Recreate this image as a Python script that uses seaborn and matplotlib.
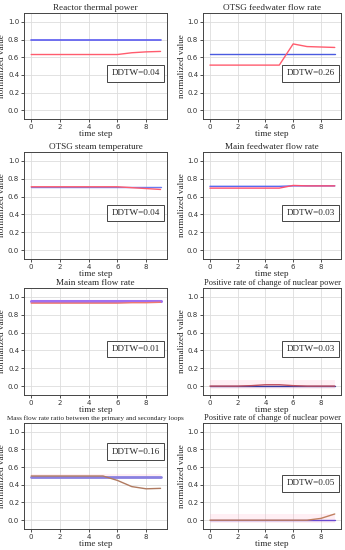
import numpy as np
import pandas as pd
import matplotlib
matplotlib.use("Agg")
import matplotlib.pyplot as plt
import seaborn as sns

steps = list(range(10))

titles = [
    "Reactor thermal power",
    "OTSG feedwater flow rate",
    "OTSG steam temperature",
    "Main feedwater flow rate",
    "Main steam flow rate",
    "Positive rate of change of nuclear power",
    "Mass flow rate ratio between the primary and secondary loops",
    "Positive rate of change of nuclear power",
]
ddtw = [0.04, 0.26, 0.04, 0.03, 0.01, 0.03, 0.16, 0.05]

ref_1 = [0.79] * 10
pred_1 = [0.63, 0.63, 0.63, 0.63, 0.63, 0.63, 0.63, 0.65, 0.66, 0.665]
ref_2 = [0.64] * 10
pred_2 = [0.51, 0.51, 0.51, 0.51, 0.51, 0.51, 0.75, 0.72, 0.715, 0.71]
ref_3 = [0.71, 0.71, 0.71, 0.71, 0.71, 0.71, 0.71, 0.71, 0.71, 0.71]
pred_3 = [0.71, 0.71, 0.71, 0.71, 0.71, 0.71, 0.71, 0.70, 0.69, 0.68]
ref_4 = [0.715, 0.715, 0.715, 0.715, 0.715, 0.715, 0.72, 0.72, 0.72, 0.72]
pred_4 = [0.695, 0.695, 0.695, 0.695, 0.695, 0.695, 0.725, 0.72, 0.72, 0.72]
ref_5 = [0.955] * 10
pred_5 = [0.93, 0.93, 0.93, 0.93, 0.93, 0.93, 0.93, 0.935, 0.935, 0.94]
ref_6 = [0.0] * 10
pred_6 = [0.0, 0.0, 0.0, 0.005, 0.015, 0.015, 0.005, 0.0, 0.0, 0.0]
ref_7 = [0.49] * 10
pred_7 = [0.5, 0.5, 0.5, 0.5, 0.5, 0.5, 0.45, 0.38, 0.355, 0.36]
ref_8 = [0.0] * 10
pred_8 = [0.0, 0.0, 0.0, 0.0, 0.0, 0.0, 0.0, 0.0, 0.02, 0.07]

refs = [ref_1, ref_2, ref_3, ref_4, ref_5, ref_6, ref_7, ref_8]
preds = [pred_1, pred_2, pred_3, pred_4, pred_5, pred_6, pred_7, pred_8]

# faint shaded bands (lower, upper) per panel, None if absent
band_6 = ([-0.03] * 10, [0.07] * 10)
band_8 = ([-0.03] * 10, [0.07] * 10)
band_7 = ([0.47] * 10, [0.52] * 10)
bands = [None, None, None, None, None, band_6, band_7, band_8]

sns.set_theme(style="ticks")
plt.rcParams["font.family"] = ["DejaVu Sans"]

fig = plt.figure(figsize=(3.45, 5.5), dpi=100)
W, H = 345, 550
col_x = [(24, 167), (203, 341)]
row_y = [(13, 119), (152, 259), (288, 395), (423, 529)]

serif = "Liberation Serif"
pred_colors = ["#ff5c6e", "#ff5c6e", "#ff5c6e", "#ff4f70", "#f07a70", "#c05060", "#b07a60", "#c08060"]
ref_colors = ["#5a5af0", "#4a5ae0", "#6a7af0", "#5a6af0", "#a070f0", "#3a3aa0", "#8a80e0", "#6a4ad0"]
ref_lw = [1.2, 1.0, 1.0, 1.0, 2.2, 1.0, 2.0, 1.0]
title_sizes = [6.6, 6.6, 6.6, 6.6, 6.6, 6.0, 5.1, 6.0]

for i in range(8):
    r, c = divmod(i, 2)
    x0, x1 = col_x[c]
    y0, y1 = row_y[r]
    ax = fig.add_axes([x0 / W, 1 - y1 / H, (x1 - x0) / W, (y1 - y0) / H])
    df = pd.DataFrame({"step": steps, "ref": refs[i], "pred": preds[i]})
    if bands[i] is not None:
        ax.fill_between(steps, bands[i][0], bands[i][1], color="#ffb0c8", alpha=0.2, lw=0)
    sns.lineplot(data=df, x="step", y="ref", ax=ax, color=ref_colors[i], lw=ref_lw[i])
    sns.lineplot(data=df, x="step", y="pred", ax=ax, color=pred_colors[i], lw=1.0)
    ax.set_ylim(-0.1, 1.1)
    ax.set_xlim(-0.5, 9.45)
    ax.set_yticks([0.0, 0.2, 0.4, 0.6, 0.8, 1.0])
    ax.set_xticks([0, 2, 4, 6, 8])
    ax.grid(True, color="#dddddd", lw=0.6)
    ax.tick_params(labelsize=5, colors="#333333", length=2, width=0.6, pad=1.5)
    for s in ax.spines.values():
        s.set_color("#444444")
        s.set_linewidth(0.7)
    t = ax.set_title(titles[i], fontsize=title_sizes[i], family=serif, pad=2.5)
    t.set_clip_on(False)
    ax.set_xlabel("time step", fontsize=6.6, family=serif, labelpad=0)
    ax.set_ylabel("normalized value", fontsize=6.6, family=serif, labelpad=1)
    by = 0.73 if i == 6 else 0.43
    ax.text(0.78, by, f"DDTW={ddtw[i]:.2f}", transform=ax.transAxes, ha="center", va="center",
            fontsize=6.6, family=serif,
            bbox=dict(boxstyle="square,pad=0.45", fc="white", ec="#444444", lw=0.7))

fig.savefig("out.png", dpi=100)
